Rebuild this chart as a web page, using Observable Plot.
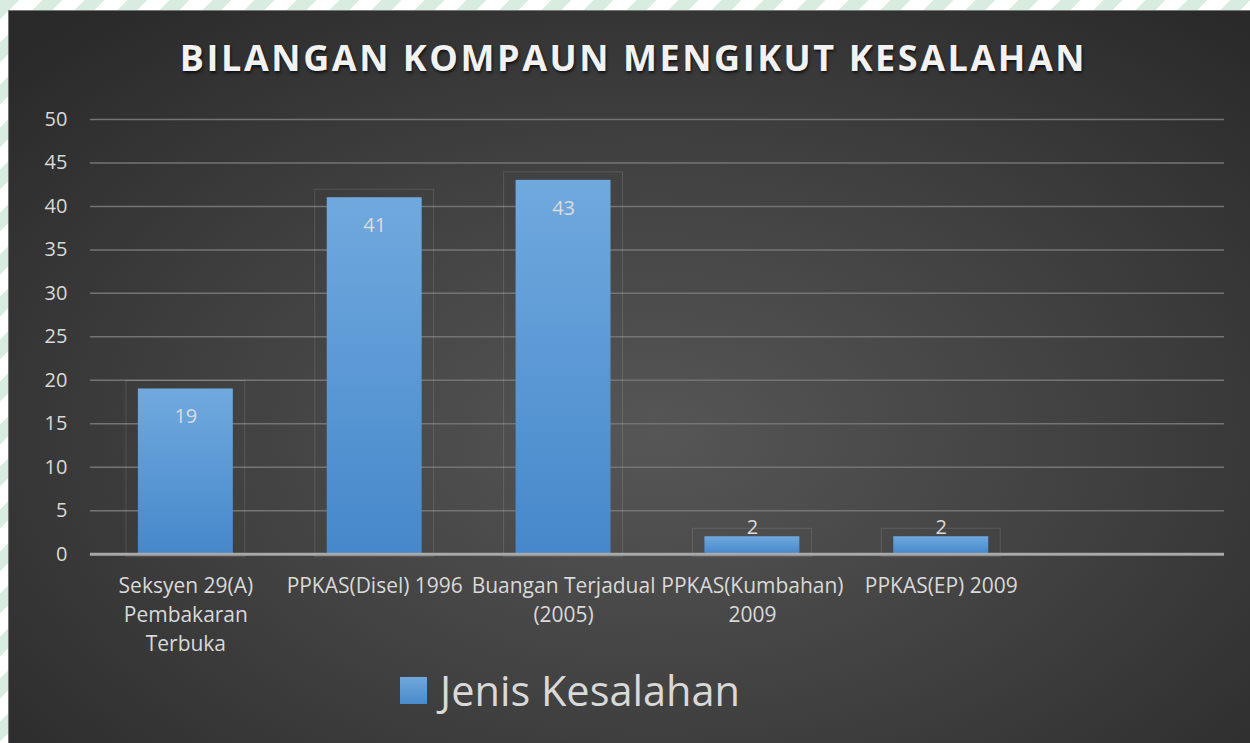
<!DOCTYPE html>
<html><head><meta charset="utf-8">
<script src="https://cdn.jsdelivr.net/npm/d3@7"></script>
<script src="https://cdn.jsdelivr.net/npm/@observablehq/plot@0.6"></script>
<style>
html,body{margin:0;padding:0;}
body{width:1250px;height:743px;overflow:hidden;position:relative;
background: repeating-linear-gradient(135deg, #d8ede0 0 14px, #ffffff 14px 30px);}
#chart{position:absolute;left:8px;top:10px;width:1242px;height:733px;box-sizing:border-box;border-top:1px solid #777;border-left:1px solid #777;
background: radial-gradient(ellipse 70% 75% at 52% 58%, #565656 0%, #414141 50%, #2a2a2a 100%);
font-family:"Open Sans",sans-serif;overflow:hidden;}
#title{position:absolute;left:4px;top:29px;width:100%;text-align:center;font-weight:700;font-size:36px;line-height:1;letter-spacing:2.55px;color:#f2f2f2;text-shadow:1px 2px 3px rgba(0,0,0,0.7);}
#plot{position:absolute;left:-1px;top:89px;}
#legend{position:absolute;left:391px;top:651px;display:flex;align-items:center;font-size:41.5px;color:#d9d9d9;}
#legend .sw{display:inline-block;width:27px;height:27px;background:linear-gradient(#6fa8dc,#4a8bcc);margin-right:13px;}
</style></head><body>
<div id="chart">
  <div id="title">BILANGAN KOMPAUN MENGIKUT KESALAHAN</div>
  <div id="plot"></div>
  <div id="legend"><span class="sw"></span><span id="legendText"></span></div>
</div>
<script>
const categories = ["Seksyen 29(A)\nPembakaran\nTerbuka", "PPKAS(Disel) 1996", "Buangan Terjadual\n(2005)", "PPKAS(Kumbahan)\n2009", "PPKAS(EP) 2009"];
const values = [19, 41, 43, 2, 2];
const yTicks = [0, 5, 10, 15, 20, 25, 30, 35, 40, 45, 50];
const seriesName = "Jenis Kesalahan";

document.getElementById("legendText").textContent = seriesName;

const data = categories.map((c, i) => ({category: c, value: values[i]}));
const xDomain = [...categories, ""];

const svg = Plot.plot({
  width: 1243,
  height: 560,
  marginLeft: 82,
  marginRight: 26,
  marginTop: 19,
  marginBottom: 106,
  style: {background: "transparent", color: "#d9d9d9", fontFamily: "'Open Sans', sans-serif"},
  x: {domain: xDomain, paddingInner: 0.5, paddingOuter: 0.25, label: null},
  y: {domain: [0, 50], label: null},
  marks: [
    Plot.ruleY(yTicks.filter(t => t > 0), {stroke: "#747474", strokeWidth: 1.5}),
    Plot.barY(data, {x: "category", y: "value", fill: "none", stroke: "#ffffff", strokeOpacity: 0.12, insetLeft: -12, insetRight: -12, insetTop: -8, insetBottom: -3}),
    Plot.barY(data, {x: "category", y: "value", fill: "url(#barGrad)"}),
    Plot.ruleY([0], {stroke: "#a9a9a9", strokeWidth: 3}),
    Plot.text(data.filter(d => d.value >= 10), {x: "category", y: "value", text: d => String(d.value), dy: 28, fill: "#dcdcdc", fontSize: 20}),
    Plot.text(data.filter(d => d.value < 10), {x: "category", y: "value", text: d => String(d.value), dy: -9, fill: "#dcdcdc", fontSize: 20}),
    Plot.axisY({ticks: yTicks, tickSize: 0, tickPadding: 23, fontSize: 20, fill: "#d9d9d9", label: null}),
    Plot.axisX({domain: xDomain, tickSize: 0, tickPadding: 18, fontSize: 21, lineHeight: 1.38, fill: "#d9d9d9", tickFormat: d => d, label: null})
  ]
});

const defs = d3.select(svg).insert("defs", ":first-child");
const grad = defs.append("linearGradient").attr("id", "barGrad").attr("x1", 0).attr("y1", 0).attr("x2", 0).attr("y2", 1);
grad.append("stop").attr("offset", "0%").attr("stop-color", "#70a9de");
grad.append("stop").attr("offset", "100%").attr("stop-color", "#4688cb");

document.getElementById("plot").appendChild(svg);
</script>
</body></html>
